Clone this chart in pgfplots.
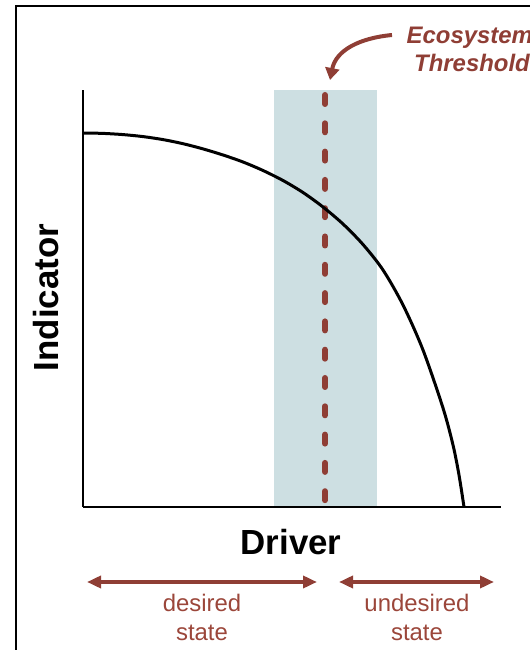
\documentclass[border=0pt]{standalone}
\usepackage{fontspec}
\setmainfont{Liberation Sans}
\usepackage{pgfplots}
\pgfplotsset{compat=1.18}
\usetikzlibrary{arrows.meta}
\definecolor{band}{RGB}{205,223,226}
\definecolor{thr}{RGB}{143,62,53}
\definecolor{lbl}{RGB}{155,70,58}
\begin{document}
\begin{tikzpicture}
\useasboundingbox (0,0) rectangle (530bp,650bp);
\draw[line width=2bp] (16bp,-10bp) -- (16bp,644bp) -- (560bp,644bp);
\begin{axis}[at={(83bp,143bp)}, anchor=south west, scale only axis,
  width=418bp, height=417bp, xmin=0, xmax=418, ymin=0, ymax=417,
  axis x line=bottom, axis y line=left,
  axis line style={-, line width=2.5bp, black},
  xtick=\empty, ytick=\empty, clip=false, axis on top]
\addplot[fill=band, draw=none] coordinates {(191,0) (294,0) (294,417) (191,417)} -- cycle;
\addplot[thr, line width=6bp, line cap=round, dash pattern=on 9bp off 19.3bp] coordinates {(242,412) (242,3)};
\addplot[black, line width=3bp, smooth, tension=0.5] coordinates {
(0,374) (20,373.6) (40,372.4) (60,370.4) (80,367.4) (100,363.3) (120,358.1)
(140,352) (160,345) (180,336.5) (200,326.5) (220,314.5) (240,300) (260,283)
(280,262.5) (300,237) (320,202) (340,157) (360,99) (370,62) (376,32) (381,0)};
\end{axis}
\node[anchor=base, font=\fontsize{35}{42}\selectfont\bfseries] at (291bp,95bp) {Driver};
\node[anchor=base, rotate=90, font=\fontsize{35}{42}\selectfont\bfseries] at (58bp,352.5bp) {Indicator};
\draw[thr, line width=4bp, -{Triangle[length=12bp,width=14bp]}] (392bp,615bp) .. controls (360bp,612bp) and (336bp,600bp) .. (330bp,570bp);
\node[anchor=base west, text=thr, font=\fontsize{24}{28}\selectfont\bfseries\itshape, inner sep=0pt] at (406.5bp,606.7bp) {Ecosystem};
\node[anchor=base west, text=thr, font=\fontsize{24}{28}\selectfont\bfseries\itshape, inner sep=0pt] at (414bp,578.3bp) {Threshold};
\draw[thr, line width=3.5bp, {Triangle[length=14bp,width=12bp]}-{Triangle[length=14bp,width=12bp]}] (87bp,68bp) -- (317bp,68bp);
\draw[thr, line width=3.5bp, {Triangle[length=14bp,width=12bp]}-{Triangle[length=14bp,width=12bp]}] (339bp,68bp) -- (494bp,68bp);
\node[anchor=base, text=lbl, font=\fontsize{24}{28}\selectfont, inner sep=0pt] at (202bp,38.3bp) {desired};
\node[anchor=base, text=lbl, font=\fontsize{24}{28}\selectfont, inner sep=0pt] at (202bp,10bp) {state};
\node[anchor=base, text=lbl, font=\fontsize{24}{28}\selectfont, inner sep=0pt] at (417bp,38.3bp) {undesired};
\node[anchor=base, text=lbl, font=\fontsize{24}{28}\selectfont, inner sep=0pt] at (417bp,10bp) {state};
\end{tikzpicture}
\end{document}
